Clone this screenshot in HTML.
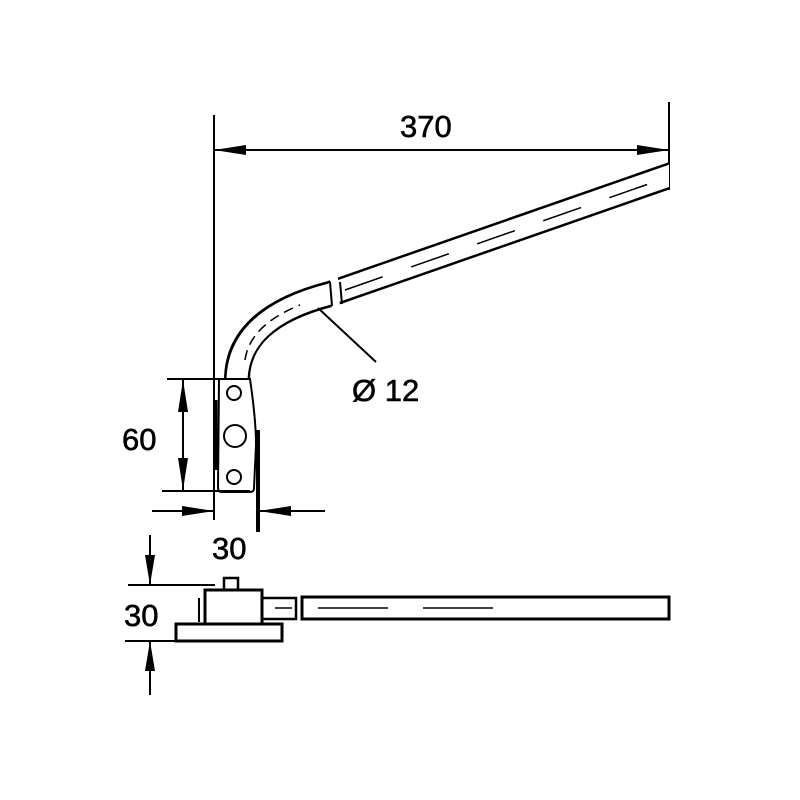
<!DOCTYPE html>
<html><head><style>body{margin:0;background:#fff}svg{display:block}</style></head><body>
<svg width="800" height="800" viewBox="0 0 800 800" xmlns="http://www.w3.org/2000/svg">
<defs><clipPath id="c"><rect x="0" y="0" width="669" height="800"/></clipPath></defs>
<rect width="800" height="800" fill="#fff"/>
<g stroke="#000" fill="none" stroke-width="2">
<!-- 370 dim -->
<line x1="214" y1="115" x2="214" y2="520"/>
<line x1="669" y1="102" x2="669" y2="190"/>
<line x1="214" y1="150" x2="669" y2="150"/>
<!-- rod top view -->
<g clip-path="url(#c)">
<path d="M237 380 Q237 318 330 294 L680 172" stroke-width="26"/>
<path d="M237 382 Q237 318 330 294 L680 172" stroke="#fff" stroke-width="21"/>
</g>
<path d="M245 360 Q250 325 300 305" stroke-width="1.5" stroke-dasharray="10 6"/>
<path d="M345 290 L660 180" stroke-width="1.5" stroke-dasharray="40 30"/>
<line x1="334" y1="278" x2="336" y2="308" stroke="#fff" stroke-width="8"/>
<line x1="330" y1="282" x2="332" y2="306"/>
<line x1="340" y1="282" x2="342" y2="304"/>
<line x1="318" y1="308" x2="376" y2="362"/>
<!-- plate -->
<path d="M219 379 L250 379 Q256 420 256 445 L254 488 Q254 492 250 492 L222 492 Q218 492 218 488 Z" fill="#fff"/>
<circle cx="234" cy="393" r="7"/>
<circle cx="235" cy="436" r="11"/>
<circle cx="234" cy="477" r="7"/>
<line x1="258" y1="430" x2="258" y2="532" stroke-width="4"/>
<line x1="216" y1="400" x2="216" y2="470" stroke-width="3"/>
<!-- 60 dim -->
<line x1="167" y1="379" x2="218" y2="379"/>
<line x1="162" y1="491" x2="250" y2="491"/>
<line x1="183" y1="379" x2="183" y2="491"/>
<!-- 30 dim -->
<line x1="152" y1="511" x2="214" y2="511"/>
<line x1="259" y1="511" x2="325" y2="511"/>
<!-- side view -->
<line x1="128" y1="585" x2="215" y2="585"/>
<line x1="125" y1="641" x2="180" y2="641"/>
<line x1="150" y1="535" x2="150" y2="585"/>
<line x1="150" y1="641" x2="150" y2="695"/>
<rect x="176" y="624" width="106" height="17" stroke-width="3"/>
<rect x="205" y="590" width="57" height="34" stroke-width="3"/>
<rect x="224" y="578" width="14" height="12" stroke-width="2.5"/>
<line x1="199" y1="598" x2="199" y2="622" stroke-width="2"/>
<rect x="262" y="598" width="34" height="21" stroke-width="2.5"/>
<rect x="302" y="597" width="367" height="22" stroke-width="3"/>
<line x1="318" y1="608" x2="388" y2="608" stroke-width="1.5"/>
<line x1="423" y1="608" x2="493" y2="608" stroke-width="1.5"/>
<line x1="275" y1="608" x2="292" y2="608" stroke-width="1.5"/>
</g>
<g fill="#000">
<polygon points="214,150 246,145 246,155"/>
<polygon points="669,150 637,145 637,155"/>
<polygon points="183,380 178,412 188,412"/>
<polygon points="183,490 178,458 188,458"/>
<polygon points="214,511 182,506 182,516"/>
<polygon points="259,511 291,506 291,516"/>
<polygon points="150,585 145,555 155,555"/>
<polygon points="150,641 145,671 155,671"/>
</g>
<g font-family="Liberation Sans, sans-serif" font-size="31" fill="#000" stroke="#000" stroke-width="0.6">
<text x="400" y="137">370</text>
<text x="122" y="450">60</text>
<text x="212" y="559">30</text>
<text x="124" y="626">30</text>
<text x="352" y="401">Ø 12</text>
</g>
</svg>
</body></html>
